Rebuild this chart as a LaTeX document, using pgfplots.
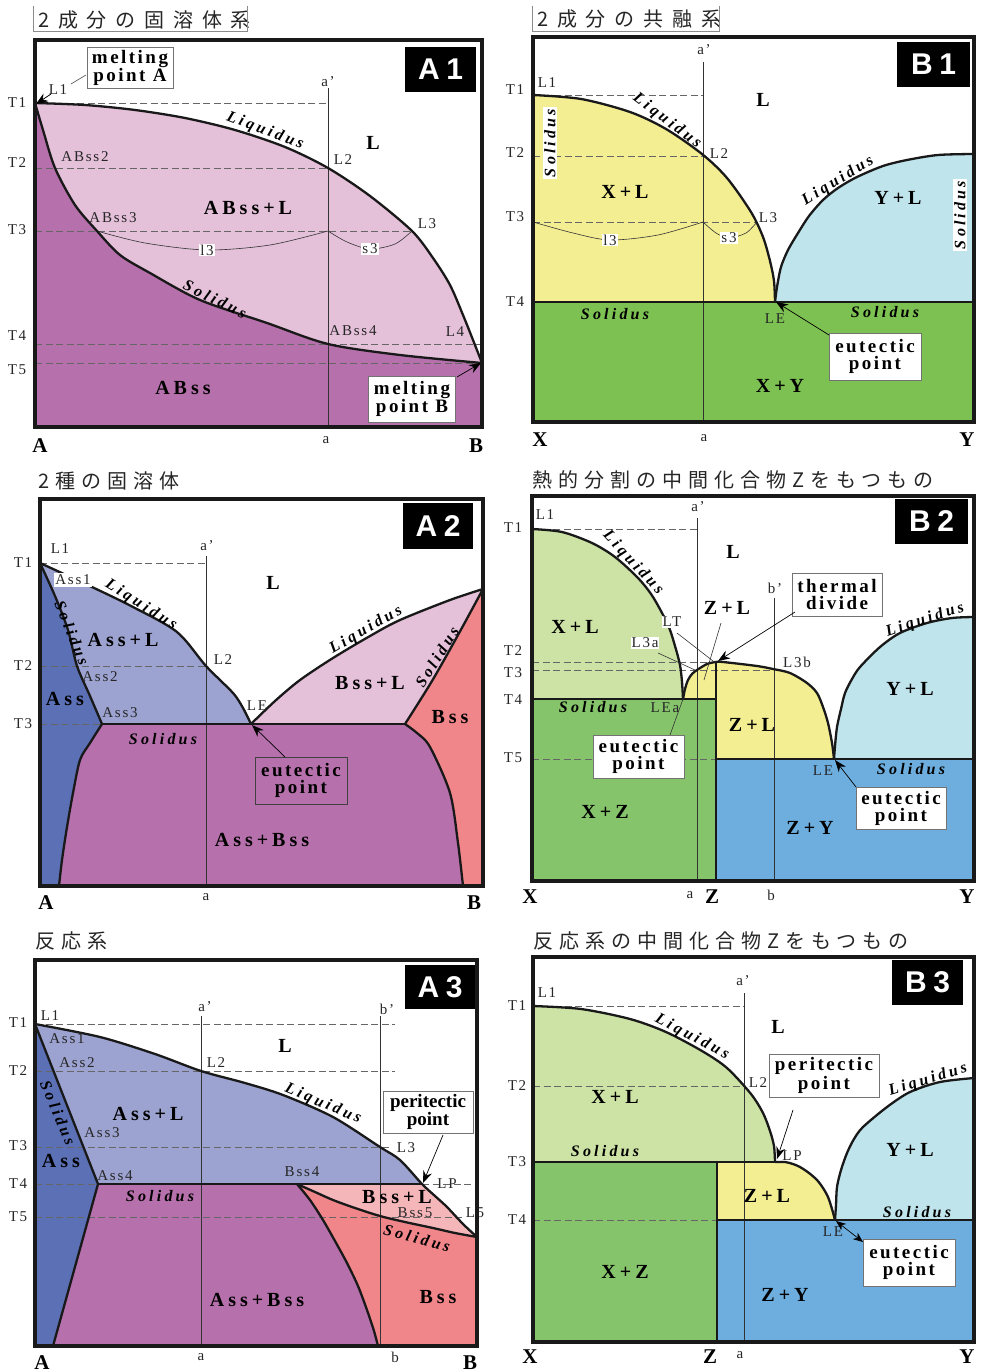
\documentclass[border=0pt]{standalone}
\usepackage{fontspec}
\setmainfont{Liberation Serif}
\newfontfamily\lsp[LetterSpace=12]{Liberation Serif}
\newfontfamily\rsp[LetterSpace=20]{Liberation Serif}
\newfontfamily\csp[LetterSpace=20]{Liberation Serif}
\newfontfamily\bsp[LetterSpace=13]{Liberation Serif}
\newfontfamily\tagf[LetterSpace=22]{Liberation Sans}
\newfontfamily\cjkA[LetterSpace=44]{Noto Sans CJK JP}
\newfontfamily\cjkB[LetterSpace=30]{Noto Sans CJK JP}
\usepackage{pgfplots}
\pgfplotsset{compat=1.18}
\usetikzlibrary{arrows.meta}

\definecolor{pinkL}{RGB}{228,192,217}
\definecolor{purp}{RGB}{182,112,172}
\definecolor{yel}{RGB}{243,238,146}
\definecolor{lblue}{RGB}{191,228,236}
\definecolor{grn}{RGB}{125,193,82}
\definecolor{dblue}{RGB}{91,112,181}
\definecolor{lilac}{RGB}{156,163,208}
\definecolor{salm}{RGB}{240,134,138}
\definecolor{lgrn}{RGB}{204,227,165}
\definecolor{mgrn}{RGB}{134,196,108}
\definecolor{sky}{RGB}{109,174,222}
\definecolor{rose}{RGB}{245,182,186}

\tikzset{
  sm/.style={font=\lsp\fontsize{15}{15}\selectfont, text=black!85, inner sep=1pt},
  rg/.style={font=\rsp\fontsize{20}{20}\selectfont\bfseries, inner sep=0pt},
  cv/.style={font=\csp\fontsize{16}{16}\selectfont\bfseries\itshape, inner sep=0.5pt},
  bx/.style={draw=black!55, line width=0.8pt, fill=white, font=\bsp\fontsize{19}{17}\selectfont\bfseries, align=center, inner sep=0pt},
  tg/.style={fill=black, text=white, font=\tagf\fontsize{30}{30}\selectfont\bfseries, inner sep=0pt, minimum width=71pt, minimum height=45pt},
  ax/.style={font=\fontsize{21}{21}\selectfont\bfseries},
  arr/.style={-{Stealth[length=12pt,width=9pt]}, line width=0.7pt, black},
  ttl/.style={anchor=west, inner sep=0pt, text=black!85},
  crv/.style={black!90, line width=2.3pt},
  dsh/.style={black!60, line width=0.8pt, dash pattern=on 7pt off 3.5pt},
  vl/.style={black!80, line width=1pt},
  tie/.style={black!80, line width=0.6pt, smooth},
  frm/.style={black!45, line width=1pt},
}
\pgfplotsset{
  phase/.style={scale only axis, anchor=south west, axis on top, xmin=0, ymin=0,
    ticks=none, clip=false, axis line style={line width=3.5pt, black!90}},
}

\begin{document}
\begin{tikzpicture}[x=1pt, y=1pt]
\useasboundingbox (0,0) rectangle (981,-1372);

% ================= A1 : complete solid solution =================
\begin{axis}[phase, at={(35,-427)}, width=447pt, height=387pt, xmax=447, ymax=387]
\addplot[fill=pinkL, draw=none, smooth] coordinates {(0,324) (50,322) (100,317) (150,309) (200,297) (250,280) (293,259) (335,231) (377,196) (398,169) (415,142) (428,112) (438,87) (447,64)} \closedcycle;
\addplot[fill=purp, draw=none, smooth] coordinates {(0,324) (8,297) (20,259) (40,222) (62,196) (85,172) (115,154) (165,127) (232,104) (293,83) (365,72) (447,64)} \closedcycle;
\addplot[dsh] coordinates {(0,324) (293,324)};
\addplot[dsh] coordinates {(0,259) (293,259)};
\addplot[dsh] coordinates {(0,196) (377,196)};
\addplot[dsh] coordinates {(0,83) (447,83)};
\addplot[dsh] coordinates {(0,64) (447,64)};
\addplot[vl] coordinates {(293,0) (293,339)};
\addplot[tie] coordinates {(62,196) (110,184) (172,177) (235,182) (293,196)};
\addplot[tie] coordinates {(293,196) (312,185) (335,178) (360,183) (377,196)};
\addplot[crv, smooth] coordinates {(0,324) (50,322) (100,317) (150,309) (200,297) (250,280) (293,259) (335,231) (377,196) (398,169) (415,142) (428,112) (438,87) (447,64)};
\addplot[crv, smooth] coordinates {(0,324) (8,297) (20,259) (40,222) (62,196) (85,172) (115,154) (165,127) (232,104) (293,83) (365,72) (447,64)};
\node[tg] at (405.5,357.5) {A1};
\node[bx, minimum width=86pt, minimum height=41pt] at (95,359) {melting\\point A};
\draw[black!70, line width=0.6pt] (51,352) -- (36,343);
\draw[arr] (16,333) -- (1,323);
\node[sm] at (23,337) {L1};
\node[bx, minimum width=87pt, minimum height=46pt] at (377,28) {melting\\point B};
\draw[arr] (422,50) -- (446,64);
\node[rg] at (338,284) {L};
\node[cv, rotate=-21] at (230,296) {Liquidus};
\node[cv, rotate=-26] at (180,128) {Solidus};
\node[rg] at (213,219) {ABss+L};
\node[rg] at (148,39) {ABss};
\node[sm] at (50,270) {ABss2};
\node[sm] at (78,209) {ABss3};
\node[sm] at (308,267) {L2};
\node[sm] at (392,203) {L3};
\node[sm] at (318,96) {ABss4};
\node[sm] at (420,95) {L4};
\node[sm, fill=white] at (172,177) {l3};
\node[sm, fill=white] at (335,178) {s3};
\node[sm] at (293,345) {a’};
\node[sm] at (291,-13) {a};
\node[ax] at (5,-19) {A};
\node[ax] at (441,-19) {B};
\node[sm] at (-18,324) {T1};
\node[sm] at (-18,264) {T2};
\node[sm] at (-18,197) {T3};
\node[sm] at (-18,91) {T4};
\node[sm] at (-18,57) {T5};
\end{axis}

% ================= B1 : simple eutectic =================
\begin{axis}[phase, at={(533,-422)}, width=441pt, height=385pt, xmax=441, ymax=385]
\addplot[fill=yel, draw=none, smooth] coordinates {(0,327) (48,323) (97,310) (133,293) (169,268) (194,244) (218,210) (230,185) (237,161) (241,141) (242,120)} \closedcycle;
\addplot[fill=lblue, draw=none, smooth] coordinates {(242,120) (244,135) (248,155) (255,172) (265,189) (276,206) (290,222) (305,234) (324,245) (350,256) (374,262) (405,267) (441,268)} \closedcycle;
\addplot[fill=grn, draw=none] coordinates {(0,120) (441,120)} \closedcycle;
\addplot[dsh] coordinates {(0,327) (170,327)};
\addplot[dsh] coordinates {(0,266) (170,266)};
\addplot[dsh] coordinates {(0,200) (224,200)};
\addplot[vl] coordinates {(170,0) (170,360)};
\addplot[tie] coordinates {(0,200) (40,189) (77,182) (125,187) (170,200)};
\addplot[tie] coordinates {(170,200) (183,189) (196,184) (213,189) (224,200)};
\addplot[crv, smooth] coordinates {(0,327) (48,323) (97,310) (133,293) (169,268) (194,244) (218,210) (230,185) (237,161) (241,141) (242,120)};
\addplot[crv, smooth] coordinates {(242,120) (244,135) (248,155) (255,172) (265,189) (276,206) (290,222) (305,234) (324,245) (350,256) (374,262) (405,267) (441,268)};
\addplot[crv] coordinates {(0,120) (441,120)};
\node[tg, minimum width=73pt] at (400.5,357.5) {B1};
\node[sm] at (14,339) {L1};
\node[sm] at (186,268) {L2};
\node[sm] at (235,204) {L3};
\node[sm] at (242,103) {LE};
\node[sm, fill=white] at (77,182) {l3};
\node[sm, fill=white] at (196,184) {s3};
\node[cv, rotate=90, fill=white, inner sep=1.5pt] at (17,279) {Solidus};
\node[cv, rotate=90, fill=white, inner sep=1.5pt] at (427,207) {Solidus};
\node[cv, rotate=-37] at (134,301) {Liquidus};
\node[cv, rotate=32] at (305,241) {Liquidus};
\node[cv] at (82,108) {Solidus};
\node[cv] at (352,110) {Solidus};
\node[rg] at (230,322) {L};
\node[rg] at (92,230) {X+L};
\node[rg] at (365,224) {Y+L};
\node[rg] at (247,36) {X+Y};
\node[bx, minimum width=92pt, minimum height=47pt] at (342,65.5) {eutectic\\point};
\draw[arr] (296,87) -- (243,120);
\node[sm] at (171,372) {a’};
\node[sm] at (171,-16) {a};
\node[ax] at (7,-18) {X};
\node[ax] at (434,-18) {Y};
\node[sm] at (-18,332) {T1};
\node[sm] at (-18,269) {T2};
\node[sm] at (-18,205) {T3};
\node[sm] at (-18,120) {T4};
\end{axis}

% ================= A2 : two solid solutions, eutectic =================
\begin{axis}[phase, at={(40,-886)}, width=443pt, height=387pt, xmax=443, ymax=387]
\addplot[fill=lilac, draw=none, smooth] coordinates {(0,323) (52,299) (93,279) (137,254) (166,220) (193,193) (203,178) (211,162)} \closedcycle;
\addplot[fill=pinkL, draw=none, smooth] coordinates {(211,162) (235,185) (260,206) (293,228) (330,250) (360,266) (410,286) (443,297)} \closedcycle;
\addplot[fill=salm, draw=none, smooth] coordinates {(365,162) (392,205) (418,251) (443,297)} \closedcycle;
\addplot[fill=dblue, draw=none, smooth] coordinates {(0,323) (15,290) (28,256) (37,220) (50,190) (62,162)} \closedcycle;
\addplot[fill=purp, draw=none] coordinates {(19,0) (22,26) (27,59) (33,93) (40,126) (50,143) (62,162) (365,162) (377,153) (390,139) (410,93) (418,43) (423,0)} \closedcycle;
\addplot[dsh] coordinates {(0,323) (166,323)};
\addplot[dsh] coordinates {(0,220) (166,220)};
\addplot[dsh] coordinates {(0,162) (62,162)};
\addplot[vl] coordinates {(166,0) (166,330)};
\addplot[crv, smooth] coordinates {(0,323) (52,299) (93,279) (137,254) (166,220) (193,193) (203,178) (211,162)};
\addplot[crv, smooth] coordinates {(0,323) (15,290) (28,256) (37,220) (50,190) (62,162)};
\addplot[crv, smooth] coordinates {(19,0) (22,26) (27,59) (33,93) (40,126) (50,143) (62,162)};
\addplot[crv] coordinates {(62,162) (365,162)};
\addplot[crv, smooth] coordinates {(211,162) (235,185) (260,206) (293,228) (330,250) (360,266) (410,286) (443,297)};
\addplot[crv, smooth] coordinates {(365,162) (392,205) (418,251) (443,297)};
\addplot[crv, smooth] coordinates {(423,0) (418,43) (410,93) (390,139) (377,153) (365,162)};
\node[tg, minimum width=70pt, minimum height=46pt] at (398,360) {A2};
\node[sm] at (20,337) {L1};
\node[sm] at (167,340) {a’};
\node[rg] at (233,303) {L};
\node[sm, fill=white, inner sep=1.5pt] at (33,306) {Ass1};
\node[cv, rotate=-32] at (101,281) {Liquidus};
\node[cv, rotate=-68] at (32,253) {Solidus};
\node[rg] at (83,246) {Ass+L};
\node[sm] at (183,226) {L2};
\node[sm] at (60,209) {Ass2};
\node[rg] at (25,187) {Ass};
\node[sm] at (80,173) {Ass3};
\node[sm] at (217,180) {LE};
\node[cv] at (123,147) {Solidus};
\node[cv, rotate=30] at (326,256) {Liquidus};
\node[rg] at (330,203) {Bss+L};
\node[cv, rotate=58] at (397,229) {Solidus};
\node[rg] at (410,169) {Bss};
\node[bx, fill=none, draw=black!75, minimum width=92pt, minimum height=47pt] at (261,105.5) {eutectic\\point};
\draw[arr] (245,129) -- (212,161);
\node[rg] at (222,46) {Ass+Bss};
\node[ax] at (6,-17) {A};
\node[sm] at (166,-11) {a};
\node[ax] at (434,-17) {B};
\node[sm] at (-17,323) {T1};
\node[sm] at (-17,220) {T2};
\node[sm] at (-17,162) {T3};
\end{axis}

% ================= B2 : congruent compound Z =================
\begin{axis}[phase, at={(532,-881)}, width=442pt, height=385pt, xmax=442, ymax=385]
\addplot[fill=lgrn, draw=none, smooth] coordinates {(0,352) (30,349) (60,338) (83,324) (106,303) (121,284) (136,256) (143,235) (148,216) (150,199) (151,182)} \closedcycle;
\addplot[fill=yel, draw=none, smooth] coordinates {(151,182) (153,192) (156,201) (160,207) (165,211) (175,217) (184,219) (191,219) (225,215) (241,212) (258,208) (275,198) (285,188) (291,174) (296,158) (300,138) (302,122)} \closedcycle;
\addplot[fill=lblue, draw=none, smooth] coordinates {(302,122) (303,135) (305,154) (309,172) (313,188) (320,202) (328,214) (348,234) (368,248) (395,258) (420,263) (442,264)} \closedcycle;
\addplot[fill=mgrn, draw=none] coordinates {(0,182) (184,182)} \closedcycle;
\addplot[fill=sky, draw=none] coordinates {(184,122) (442,122)} \closedcycle;
\addplot[dsh] coordinates {(0,352) (165,352)};
\addplot[dsh] coordinates {(0,219) (184,219)};
\addplot[dsh] coordinates {(0,211) (241,211)};
\addplot[dsh] coordinates {(0,122) (184,122)};
\addplot[vl] coordinates {(165,0) (165,363)};
\addplot[vl] coordinates {(242,0) (242,283)};
\addplot[crv, smooth] coordinates {(0,352) (30,349) (60,338) (83,324) (106,303) (121,284) (136,256) (143,235) (148,216) (150,199) (151,182)};
\addplot[crv, smooth] coordinates {(151,182) (153,192) (156,201) (160,207) (165,211) (175,217) (184,219) (191,219) (225,215) (241,212) (258,208) (275,198) (285,188) (291,174) (296,158) (300,138) (302,122)};
\addplot[crv, smooth] coordinates {(302,122) (303,135) (305,154) (309,172) (313,188) (320,202) (328,214) (348,234) (368,248) (395,258) (420,263) (442,264)};
\addplot[crv] coordinates {(0,182) (184,182)};
\addplot[crv] coordinates {(184,122) (442,122)};
\addplot[crv] coordinates {(184,0) (184,219)};
\draw[black!80, line width=0.6pt] (145,248) -- (181,220);
\draw[black!80, line width=0.6pt] (126,228) -- (163,211);
\draw[black!80, line width=0.6pt] (189,258) -- (172,201);
\draw[black!80, line width=0.6pt] (138,146) -- (151,182);
\node[tg, minimum width=73pt] at (399.5,359.5) {B2};
\node[sm] at (13,366) {L1};
\node[sm] at (166,374) {a’};
\node[rg] at (201,329) {L};
\node[cv, rotate=-47] at (101,318) {Liquidus};
\node[rg] at (43,254) {X+L};
\node[sm, fill=white] at (140,259) {LT};
\node[sm, fill=white] at (113,238) {L3a};
\node[rg] at (195,273) {Z+L};
\node[sm] at (243,293) {b’};
\node[bx, minimum width=90pt, minimum height=43pt] at (305,286.5) {thermal\\divide};
\draw[arr] (263,269) -- (186,220);
\node[sm] at (265,219) {L3b};
\node[cv, rotate=18] at (393,261) {Liquidus};
\node[rg] at (378,192) {Y+L};
\node[cv] at (61,174) {Solidus};
\node[sm] at (133,173) {LEa};
\node[rg] at (220,156) {Z+L};
\node[bx, minimum width=91pt, minimum height=43pt] at (106.5,124.5) {eutectic\\point};
\node[rg] at (73,69) {X+Z};
\node[sm] at (291,110) {LE};
\node[cv] at (379,112) {Solidus};
\node[bx, minimum width=90pt, minimum height=42pt] at (369,73) {eutectic\\point};
\draw[arr] (324,94) -- (303,121);
\node[rg] at (278,53) {Z+Y};
\node[ax] at (-2,-16) {X};
\node[sm] at (158,-14) {a};
\node[ax] at (180,-16) {Z};
\node[sm] at (239,-14) {b};
\node[ax] at (435,-16) {Y};
\node[sm] at (-19,353) {T1};
\node[sm] at (-19,230) {T2};
\node[sm] at (-19,208) {T3};
\node[sm] at (-19,181) {T4};
\node[sm] at (-19,123) {T5};
\end{axis}

% ================= A3 : peritectic =================
\begin{axis}[phase, at={(35,-1346)}, width=442pt, height=386pt, xmax=442, ymax=386]
\addplot[fill=lilac, draw=none, smooth] coordinates {(0,322) (65,309) (120,292) (166,275) (210,263) (248,251) (298,229) (345,199) (365,186) (387,162) (400,150) (412,139) (428,122) (442,109)} \closedcycle;
\addplot[fill=rose, draw=none] coordinates {(262,162) (387,162) (400,150) (412,139) (428,122) (442,109)} \closedcycle;
\addplot[fill=salm, draw=none, smooth] coordinates {(262,162) (280,154) (298,146) (320,138) (345,130) (370,124) (398,118) (420,113) (442,109)} \closedcycle;
\addplot[fill=purp, draw=none] coordinates {(18,0) (63,162) (262,162) (275,146) (288,126) (300,105) (312,83) (323,60) (332,36) (339,15) (343,0)} \closedcycle;
\addplot[fill=dblue, draw=none] coordinates {(0,322) (63,162) (18,0)} \closedcycle;
\addplot[dsh] coordinates {(0,322) (360,322)};
\addplot[dsh] coordinates {(0,275) (360,275)};
\addplot[dsh] coordinates {(0,199) (357,199)};
\addplot[dsh] coordinates {(0,162) (63,162)};
\addplot[dsh] coordinates {(387,162) (442,162)};
\addplot[dsh] coordinates {(0,129) (442,129)};
\addplot[vl] coordinates {(166,0) (166,330)};
\addplot[vl] coordinates {(345,0) (345,330)};
\addplot[crv, smooth] coordinates {(0,322) (65,309) (120,292) (166,275) (210,263) (248,251) (298,229) (345,199) (365,186) (387,162) (400,150) (412,139) (428,122) (442,109)};
\addplot[crv] coordinates {(0,322) (63,162) (18,0)};
\addplot[crv] coordinates {(63,162) (387,162)};
\addplot[crv, smooth] coordinates {(262,162) (280,154) (298,146) (320,138) (345,130) (370,124) (398,118) (420,113) (442,109)};
\addplot[crv, smooth] coordinates {(343,0) (339,15) (332,36) (323,60) (312,83) (300,105) (288,126) (275,146) (262,162)};
\node[tg, minimum width=70pt, minimum height=44pt] at (405,359) {A3};
\node[sm] at (15,330) {L1};
\node[sm] at (170,339) {a’};
\node[sm] at (352,337) {b’};
\node[rg] at (250,300) {L};
\node[sm] at (32,307) {Ass1};
\node[sm] at (42,283) {Ass2};
\node[sm] at (181,283) {L2};
\node[cv, rotate=-23] at (288,242) {Liquidus};
\node[cv, rotate=-67] at (23,233) {Solidus};
\node[rg] at (113,232) {Ass+L};
\node[sm] at (67,213) {Ass3};
\node[bx, font=\fontsize{19}{16}\selectfont\bfseries, minimum width=90pt, minimum height=42pt] at (393,234) {peritectic\\point};
\draw[arr] (408,211) -- (388,163);
\node[sm] at (371,198) {L3};
\node[rg] at (26,185) {Ass};
\node[sm] at (80,170) {Ass4};
\node[sm] at (267,174) {Bss4};
\node[sm] at (412,162) {LP};
\node[cv] at (125,150) {Solidus};
\node[rg] at (362,149) {Bss+L};
\node[sm] at (380,133) {Bss5};
\node[sm, fill=white] at (440,133) {L5};
\node[cv, rotate=-15] at (382,108) {Solidus};
\node[rg] at (222,46) {Ass+Bss};
\node[rg] at (403,49) {Bss};
\node[ax] at (7,-17) {A};
\node[sm] at (166,-11) {a};
\node[sm] at (360,-11) {b};
\node[ax] at (435,-17) {B};
\node[sm] at (-17,323) {T1};
\node[sm] at (-17,275) {T2};
\node[sm] at (-17,200) {T3};
\node[sm] at (-17,162) {T4};
\node[sm] at (-17,129) {T5};
\end{axis}

% ================= B3 : incongruent compound Z =================
\begin{axis}[phase, at={(533,-1342)}, width=441pt, height=385pt, xmax=441, ymax=385]
\addplot[fill=lgrn, draw=none, smooth] coordinates {(0,336) (48,333) (97,323) (133,310) (169,291) (194,274) (218,248) (230,229) (237,211) (241,196) (242,180)} \closedcycle;
\addplot[fill=yel, draw=none] coordinates {(184,180) (252,180)} \closedcycle;
\addplot[fill=yel, draw=none, smooth] coordinates {(242,180) (252,180) (260,178) (267,175) (276,169) (284,162) (290,154) (295,145) (299,133) (302,122)} \closedcycle;
\addplot[fill=lblue, draw=none, smooth] coordinates {(302,122) (303,137) (304,155) (308,172) (314,189) (321,203) (330,215) (354,235) (377,250) (407,260) (441,264)} \closedcycle;
\addplot[fill=mgrn, draw=none] coordinates {(0,180) (184,180)} \closedcycle;
\addplot[fill=sky, draw=none] coordinates {(184,122) (441,122)} \closedcycle;
\addplot[dsh] coordinates {(0,336) (211,336)};
\addplot[dsh] coordinates {(0,256) (211,256)};
\addplot[dsh] coordinates {(0,122) (184,122)};
\addplot[vl] coordinates {(211,0) (211,349)};
\addplot[crv, smooth] coordinates {(0,336) (48,333) (97,323) (133,310) (169,291) (194,274) (218,248) (230,229) (237,211) (241,196) (242,180)};
\addplot[crv, smooth] coordinates {(242,180) (252,180) (260,178) (267,175) (276,169) (284,162) (290,154) (295,145) (299,133) (302,122)};
\addplot[crv, smooth] coordinates {(302,122) (303,137) (304,155) (308,172) (314,189) (321,203) (330,215) (354,235) (377,250) (407,260) (441,264)};
\addplot[crv] coordinates {(0,180) (242,180)};
\addplot[crv] coordinates {(184,122) (441,122)};
\addplot[crv] coordinates {(184,0) (184,180)};
\node[tg, minimum width=71pt] at (394.5,359.5) {B3};
\node[sm] at (14,349) {L1};
\node[sm] at (210,361) {a’};
\node[rg] at (245,315) {L};
\node[cv, rotate=-28] at (159,305) {Liquidus};
\node[bx, minimum width=110pt, minimum height=43pt] at (291,266.5) {peritectic\\point};
\draw[arr] (260,232) -- (244,183);
\node[sm] at (225,259) {L2};
\node[rg] at (82,245) {X+L};
\node[cv, rotate=17] at (395,262) {Liquidus};
\node[rg] at (377,192) {Y+L};
\node[cv] at (72,191) {Solidus};
\node[sm] at (259,186) {LP};
\node[rg] at (234,146) {Z+L};
\node[cv] at (384,130) {Solidus};
\node[sm] at (300,110) {LE};
\node[bx, minimum width=92pt, minimum height=47pt] at (376,79.5) {eutectic\\point};
\draw[{Stealth[length=10pt,width=8pt]}-{Stealth[length=10pt,width=8pt]}, line width=0.7pt] (303,121) -- (330,100);
\node[rg] at (92,70) {X+Z};
\node[rg] at (252,47) {Z+Y};
\node[ax] at (-3,-15) {X};
\node[ax] at (177,-15) {Z};
\node[sm] at (207,-13) {a};
\node[ax] at (434,-15) {Y};
\node[sm] at (-16,336) {T1};
\node[sm] at (-16,256) {T2};
\node[sm] at (-16,180) {T3};
\node[sm] at (-16,122) {T4};
\end{axis}

% ================= headings =================
\node[ttl, font=\cjkA\fontsize{20}{20}\selectfont] at (38,-20) {2成分の固溶体系};
\draw[frm] (33,-6) -- (33,-32) -- (247,-32) -- (247,-6);
\node[ttl, font=\cjkA\fontsize{20}{20}\selectfont] at (537,-19) {2成分の共融系};
\draw[frm] (532,-6) -- (532,-32) -- (719,-32) -- (719,-6);
\node[ttl, font=\cjkB\fontsize{20}{20}\selectfont] at (38,-481) {2種の固溶体};
\node[ttl, font=\cjkB\fontsize{20}{20}\selectfont] at (532,-480) {熱的分割の中間化合物Zをもつもの};
\node[ttl, font=\cjkB\fontsize{20}{20}\selectfont] at (35,-941) {反応系};
\node[ttl, font=\cjkB\fontsize{20}{20}\selectfont] at (533,-941) {反応系の中間化合物Zをもつもの};
\end{tikzpicture}
\end{document}
